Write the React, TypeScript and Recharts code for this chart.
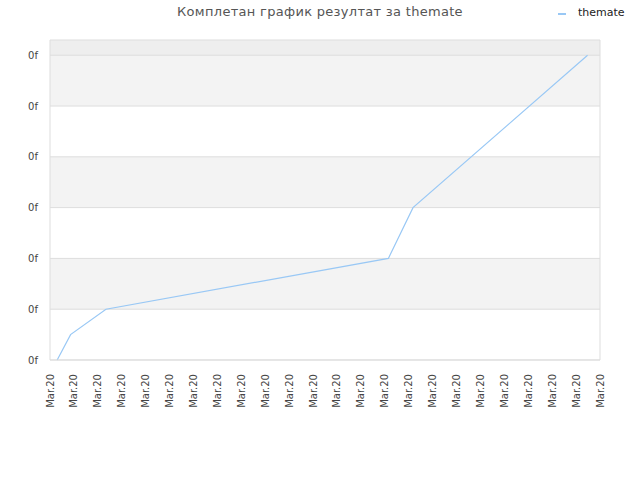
import {
  Line,
  LineChart,
  ReferenceArea,
  ReferenceLine,
  XAxis,
  YAxis,
} from 'recharts'

const title = 'Комплетан график резултат за themate'
const seriesName = 'themate'

// x positions (in tick units) and y values
const pointX = [0.3, 0.86, 2.34, 14.15, 15.18, 22.48]
const pointY = [0, 0.5, 1, 2, 3, 6]

const xTickLabels = Array.from({ length: 24 }, () => 'Mar.20')
const yTicks = [0, 1, 2, 3, 4, 5, 6]
const yTickLabels = ['0f', '0f', '0f', '0f', '0f', '0f', '0f']
const yMax = 6.3

const data = pointX.map((x, i) => ({ x, value: pointY[i] }))
const xTicks = xTickLabels.map((_, i) => i)

const FONT = '"DejaVu Sans", Verdana, sans-serif'
const LINE_COLOR = '#99c8f5'
const GRID = '#dddddd'

function XTick({ x, y, payload }: any) {
  return (
    <text
      x={x}
      y={y}
      transform={`rotate(-90, ${x}, ${y})`}
      textAnchor="end"
      dominantBaseline="central"
      fontFamily={FONT}
      fontSize={10}
      fill="#444"
    >
      {xTickLabels[payload.value]}
    </text>
  )
}

export default function App() {
  const bands = yTicks.map((t, i) => ({
    y1: t,
    y2: i + 1 < yTicks.length ? yTicks[i + 1] : yMax,
    fill: i === yTicks.length - 1 ? '#eeeeee' : i % 2 === 1 ? '#f3f3f3' : '#ffffff',
  }))

  return (
    <div style={{ position: 'absolute', left: 0, top: 0, width: 640, height: 480, background: '#fff' }}>
      <div
        style={{
          position: 'absolute',
          top: 4,
          left: 0,
          width: 640,
          textAlign: 'center',
          fontFamily: FONT,
          fontSize: 13,
          letterSpacing: 0.3,
          color: '#555',
        }}
      >
        {title}
      </div>
      <div
        style={{
          position: 'absolute',
          top: 6,
          left: 557,
          display: 'flex',
          alignItems: 'center',
          fontFamily: FONT,
          fontSize: 11,
          color: '#222',
        }}
      >
        <svg width={21} height={12}>
          <line x1={1} y1={7} x2={9} y2={7} stroke={LINE_COLOR} strokeWidth={2} />
        </svg>
        <span>{seriesName}</span>
      </div>
      <LineChart
        width={640}
        height={480}
        data={data}
        margin={{ top: 40, right: 40, left: 0, bottom: 0 }}
      >
        {bands.map((b, i) => (
          <ReferenceArea key={`a${i}`} y1={b.y1} y2={b.y2} fill={b.fill} fillOpacity={1} stroke="none" ifOverflow="hidden" />
        ))}
        {yTicks.map((t) => (
          <ReferenceLine key={`l${t}`} y={t} stroke={GRID} />
        ))}
        <ReferenceLine y={yMax} stroke={GRID} />
        <ReferenceLine x={xTicks.length - 1} stroke={GRID} />
        <XAxis
          dataKey="x"
          type="number"
          domain={[0, xTicks.length - 1]}
          ticks={xTicks}
          interval={0}
          tick={<XTick />}
          tickLine={false}
          axisLine={{ stroke: GRID }}
          height={120}
          tickMargin={8}
        />
        <YAxis
          type="number"
          domain={[0, yMax]}
          ticks={yTicks}
          interval={0}
          tickFormatter={(v) => yTickLabels[yTicks.indexOf(v)]}
          tick={{ fontFamily: FONT, fontSize: 10, fill: '#444' }}
          tickLine={false}
          axisLine={{ stroke: GRID }}
          width={50}
          tickMargin={6}
        />
        <Line
          type="linear"
          dataKey="value"
          name={seriesName}
          stroke={LINE_COLOR}
          strokeWidth={1.2}
          dot={false}
          isAnimationActive={false}
        />
      </LineChart>
    </div>
  )
}
